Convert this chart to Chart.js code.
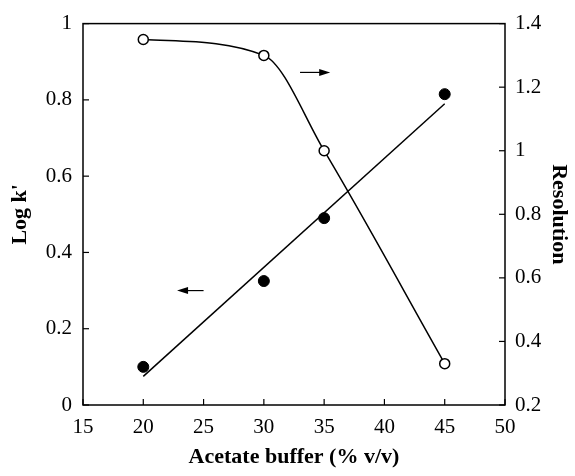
<!DOCTYPE html>
<html><head><meta charset="utf-8">
<script src="https://cdn.jsdelivr.net/npm/chart.js@4"></script>
<style>html,body{margin:0;padding:0;background:#fff}#wrap{width:575px;height:476px}</style>
</head><body><div id="wrap"><canvas id="c" width="575" height="476"></canvas></div>
<script>
const buffer = [20, 30, 35, 45];
const logK = [0.10, 0.325, 0.49, 0.815];
const resolution = [1.35, 1.30, 1.00, 0.33];
const fitX = [20, 45];
const fitY = [0.075, 0.79];
const xTicks = [15, 20, 25, 30, 35, 40, 45, 50];
const leftTicks = [0, 0.2, 0.4, 0.6, 0.8, 1];
const rightTicks = [0.2, 0.4, 0.6, 0.8, 1, 1.2, 1.4];
// arrow annotations: [x0, x1, yLeft]
const arrowRight = [33.0, 35.5, 0.872];
const arrowLeft = [25.0, 22.8, 0.30];

const FONT = "'Liberation Serif', 'Times New Roman', serif";
const pts = (xs, ys) => xs.map((x, i) => ({x, y: ys[i]}));

const frame = {
  id: 'frame',
  afterDraw(chart) {
    const {ctx, chartArea: a, scales} = chart;
    ctx.save();
    ctx.strokeStyle = '#000';
    ctx.lineWidth = 1.5;
    ctx.strokeRect(a.left, a.top, a.right - a.left, a.bottom - a.top);
    ctx.lineWidth = 1.2;
    const tl = 6;
    scales.x.ticks.forEach(t => { const p = scales.x.getPixelForValue(t.value); ctx.beginPath(); ctx.moveTo(p, a.bottom); ctx.lineTo(p, a.bottom - tl); ctx.stroke(); });
    scales.y.ticks.forEach(t => { const p = scales.y.getPixelForValue(t.value); ctx.beginPath(); ctx.moveTo(a.left, p); ctx.lineTo(a.left + tl, p); ctx.stroke(); });
    scales.y2.ticks.forEach(t => { const p = scales.y2.getPixelForValue(t.value); ctx.beginPath(); ctx.moveTo(a.right, p); ctx.lineTo(a.right - tl, p); ctx.stroke(); });
    const drawArrow = (arr) => {
      const x0 = scales.x.getPixelForValue(arr[0]), x1 = scales.x.getPixelForValue(arr[1]);
      const y = scales.y.getPixelForValue(arr[2]);
      const dir = Math.sign(x1 - x0);
      ctx.beginPath(); ctx.moveTo(x0, y); ctx.lineTo(x1 - dir * 4, y); ctx.stroke();
      ctx.beginPath(); ctx.moveTo(x1, y); ctx.lineTo(x1 - dir * 11, y - 3.5); ctx.lineTo(x1 - dir * 11, y + 3.5); ctx.closePath(); ctx.fillStyle = '#000'; ctx.fill();
    };
    drawArrow(arrowRight);
    drawArrow(arrowLeft);
    ctx.restore();
  }
};

const tickFont = { family: FONT, size: 21 };
const titleFont = { family: FONT, size: 22, weight: 'bold' };
const fmt = v => String(+v.toFixed(2));

new Chart(document.getElementById('c'), {
  type: 'scatter',
  data: {
    datasets: [
      { label: 'fit', data: pts(fitX, fitY), showLine: true, borderColor: '#000', borderWidth: 1.5, pointRadius: 0, yAxisID: 'y', tension: 0 },
      { label: "Log k'", data: pts(buffer, logK), showLine: false, pointRadius: 5.5, pointBackgroundColor: '#000', pointBorderColor: '#000', yAxisID: 'y' },
      { label: 'Resolution', data: pts(buffer, resolution), showLine: true, cubicInterpolationMode: 'monotone', borderColor: '#000', borderWidth: 1.5, pointRadius: 5, pointBorderWidth: 1.5, pointBackgroundColor: '#fff', pointBorderColor: '#000', yAxisID: 'y2' }
    ]
  },
  options: {
    responsive: false, animation: false,
    layout: { padding: { top: 23, left: 0, right: 0, bottom: 0 } },
    plugins: { legend: { display: false }, tooltip: { enabled: false } },
    scales: {
      x: {
        type: 'linear', min: 15, max: 50, position: 'bottom',
        afterBuildTicks: s => { s.ticks = xTicks.map(v => ({value: v})); },
        afterFit: s => { s.height = 71; },
        grid: { display: false, drawTicks: false },
        border: { display: false },
        ticks: { color: '#000', font: tickFont, padding: 10, maxRotation: 0, callback: fmt },
        title: { display: true, text: 'Acetate buffer (% v/v)', color: '#000', font: titleFont, padding: { bottom: 5 } }
      },
      y: {
        type: 'linear', min: 0, max: 1, position: 'left',
        afterBuildTicks: s => { s.ticks = leftTicks.map(v => ({value: v})); },
        afterFit: s => { s.width = 83; },
        grid: { display: false, drawTicks: false },
        border: { display: false },
        ticks: { color: '#000', font: tickFont, padding: 11, callback: fmt },
        title: { display: true, text: "Log k'", color: '#000', font: titleFont, padding: { top: 7 } }
      },
      y2: {
        type: 'linear', min: 0.2, max: 1.4, position: 'right',
        afterBuildTicks: s => { s.ticks = rightTicks.map(v => ({value: v})); },
        afterFit: s => { s.width = 70; },
        grid: { display: false, drawTicks: false },
        border: { display: false },
        ticks: { color: '#000', font: tickFont, padding: 10, callback: fmt },
        title: { display: true, text: 'Resolution', color: '#000', font: titleFont, padding: { top: 3 } }
      }
    }
  },
  plugins: [frame]
});
</script></body></html>
